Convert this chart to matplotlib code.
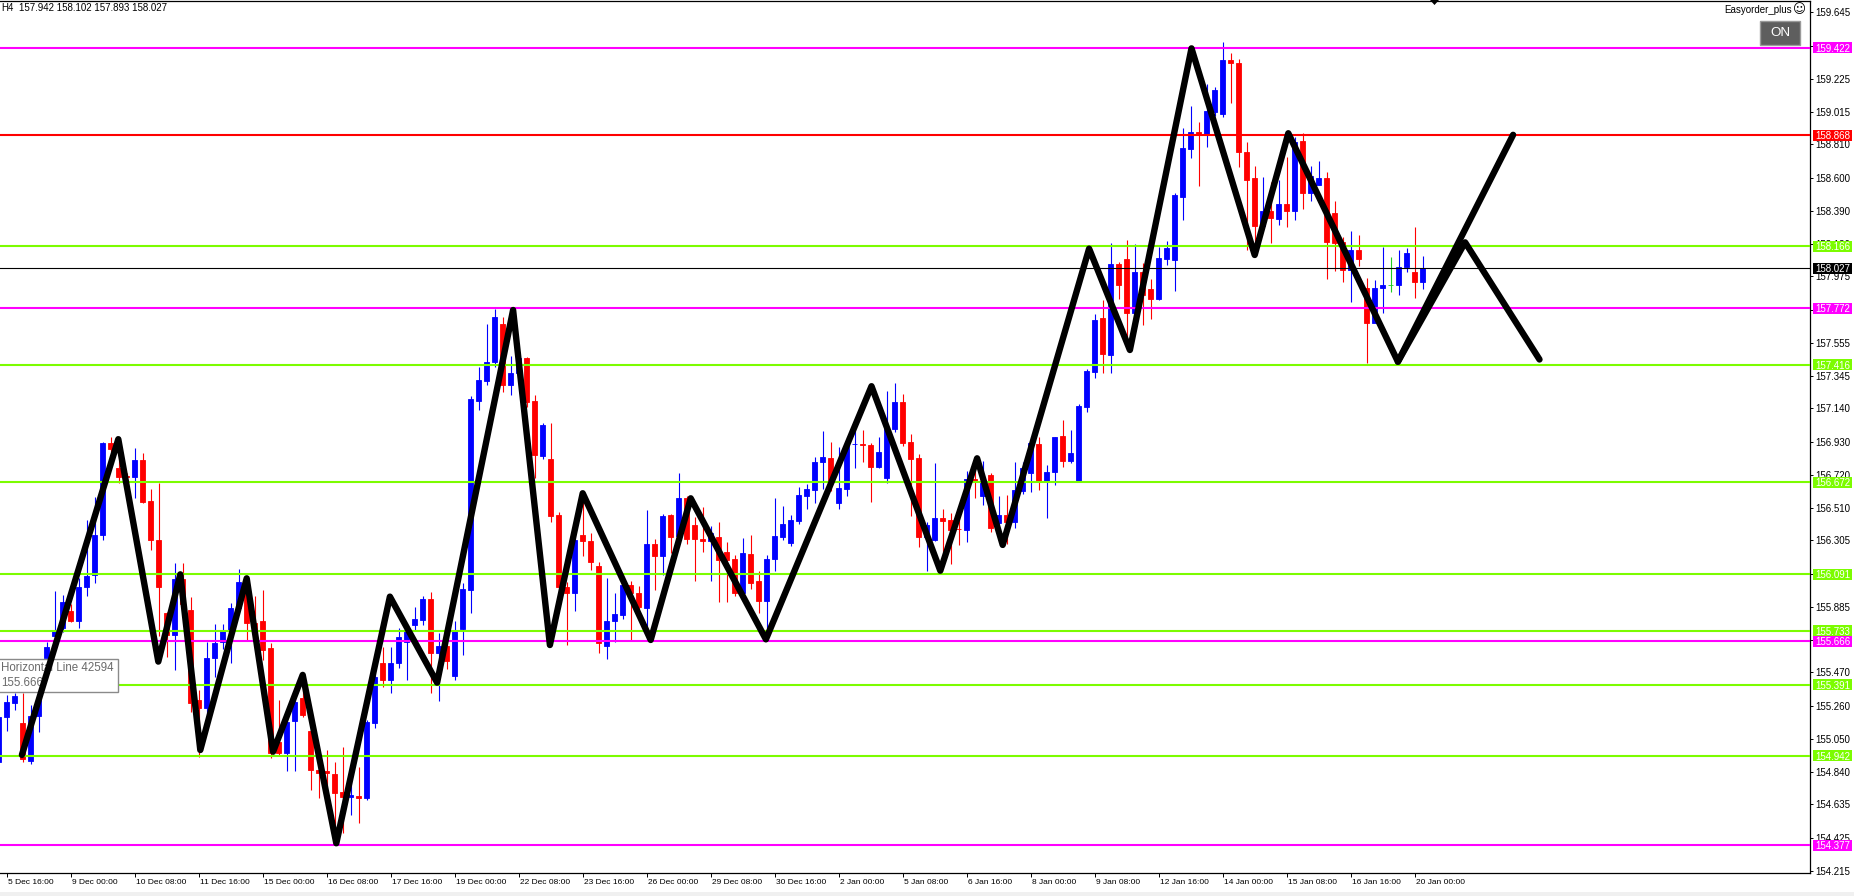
import matplotlib
matplotlib.use("Agg")
import matplotlib.pyplot as plt
import matplotlib.transforms as mtransforms
from matplotlib.patches import Rectangle, Polygon
import numpy as np

plt.rcParams['font.family'] = ['Liberation Sans', 'DejaVu Sans']

# ---------------- data (USDJPY H4) ----------------
opens = [154.906, 155.190, 155.279, 155.148, 154.910, 155.194, 155.559, 155.700, 155.749, 155.861,
         155.797, 156.008, 156.086, 156.339, 156.923, 156.761, 156.712, 156.708, 156.814, 156.554,
         156.308, 155.844, 155.707, 156.059, 155.865, 155.296, 155.243, 155.559, 155.665, 155.739,
         155.876, 155.991, 155.780, 155.797, 155.623, 155.032, 154.963, 155.165, 155.306, 155.096,
         154.853, 154.849, 154.828, 154.714, 154.680, 154.689, 154.674, 155.148, 155.528, 155.422,
         155.528, 155.660, 155.770, 155.802, 155.932, 155.591, 155.637, 155.444, 155.745, 155.988,
         157.189, 157.316, 157.432, 157.674, 157.288, 157.362, 157.461, 157.187, 156.839, 156.820,
         156.466, 156.013, 155.971, 156.340, 156.302, 156.144, 155.638, 155.792, 155.834, 156.023,
         155.975, 155.880, 156.283, 156.203, 156.466, 156.330, 156.572, 156.403, 156.312, 156.300,
         156.325, 156.234, 156.188, 155.971, 156.220, 156.045, 155.924, 156.186, 156.329, 156.287,
         156.430, 156.586, 156.624, 156.801, 156.829, 156.540, 156.631, 156.913, 156.913, 156.909,
         156.772, 156.702, 157.010, 157.183, 156.930, 156.829, 156.329, 156.308, 156.445, 156.434,
         156.378, 156.371, 156.696, 156.588, 156.721, 156.413, 156.466, 156.418, 156.620, 156.734,
         156.915, 156.671, 156.740, 156.966, 156.810, 156.683, 157.151, 157.373, 157.710, 157.478,
         158.054, 158.085, 157.746, 158.003, 157.896, 157.832, 158.085, 158.079, 158.479, 158.780,
         158.890, 158.875, 159.017, 159.002, 159.343, 159.326, 158.764, 158.599, 158.296, 158.388,
         158.338, 158.433, 158.388, 158.831, 158.504, 158.553, 158.599, 158.378, 158.194, 158.015,
         158.142, 157.904, 157.682, 157.900, 157.920, 157.920, 158.032, 158.001, 157.942]
highs = [155.211, 155.330, 155.342, 155.342, 155.264, 155.350, 155.665, 155.985, 155.960, 155.900,
         156.065, 156.434, 156.580, 156.929, 156.957, 156.957, 156.730, 156.887, 156.856, 156.628,
         156.666, 155.850, 156.164, 156.164, 155.949, 155.359, 155.665, 155.776, 155.776, 155.911,
         156.122, 156.060, 155.950, 155.991, 155.654, 155.296, 155.200, 155.310, 155.454, 155.150,
         154.950, 154.980, 154.906, 155.001, 154.885, 154.874, 155.170, 155.464, 155.633, 155.633,
         155.749, 155.770, 155.886, 155.953, 155.981, 155.717, 155.665, 155.798, 156.034, 157.215,
         157.404, 157.674, 157.771, 157.720, 157.472, 157.490, 157.467, 157.225, 157.050, 157.046,
         156.487, 156.040, 156.350, 156.582, 156.350, 156.170, 156.070, 155.975, 156.050, 156.045,
         156.017, 156.494, 156.314, 156.470, 156.470, 156.734, 156.586, 156.450, 156.519, 156.397,
         156.424, 156.293, 156.210, 156.319, 156.340, 156.108, 156.213, 156.572, 156.523, 156.464,
         156.641, 156.660, 156.835, 156.997, 156.930, 156.898, 156.961, 157.004, 157.004, 156.919,
         156.957, 157.250, 157.303, 157.231, 156.978, 156.852, 156.424, 156.797, 156.502, 156.481,
         156.466, 156.746, 156.751, 156.808, 156.730, 156.588, 156.592, 156.801, 156.801, 156.961,
         156.961, 156.782, 156.961, 157.067, 157.000, 157.168, 157.389, 157.737, 157.826, 158.188,
         158.068, 158.205, 158.180, 158.062, 157.959, 158.163, 158.201, 158.505, 158.915, 159.052,
         158.953, 159.189, 159.175, 159.455, 159.390, 159.347, 158.823, 158.673, 158.605, 158.570,
         158.584, 158.732, 158.858, 158.880, 158.673, 158.705, 158.633, 158.452, 158.226, 158.262,
         158.237, 157.963, 157.952, 158.163, 158.100, 158.142, 158.152, 158.285, 158.102]
lows = [154.895, 155.102, 155.232, 154.906, 154.891, 155.095, 155.520, 155.680, 155.728, 155.790,
        155.749, 155.950, 156.034, 156.308, 156.860, 156.666, 156.700, 156.571, 156.540, 156.244,
        155.700, 155.570, 155.486, 155.850, 155.221, 154.937, 155.200, 155.443, 155.620, 155.528,
        155.850, 155.675, 155.680, 155.550, 154.930, 154.950, 154.843, 154.843, 155.190, 154.727,
        154.674, 154.674, 154.389, 154.453, 154.569, 154.516, 154.660, 155.117, 155.380, 155.338,
        155.496, 155.420, 155.739, 155.770, 155.338, 155.290, 155.490, 155.423, 155.581, 155.844,
        157.130, 157.290, 157.400, 157.246, 157.225, 157.340, 157.150, 156.698, 156.820, 156.418,
        155.980, 155.644, 155.855, 156.203, 156.120, 155.591, 155.553, 155.665, 155.810, 155.676,
        155.850, 155.676, 155.992, 156.087, 156.224, 156.300, 156.280, 156.051, 156.234, 156.045,
        155.918, 155.912, 155.950, 155.950, 156.000, 155.848, 155.743, 156.108, 156.308, 156.270,
        156.410, 156.502, 156.540, 156.629, 156.620, 156.502, 156.586, 156.761, 156.803, 156.550,
        156.761, 156.666, 156.990, 156.900, 156.456, 156.262, 156.108, 156.300, 156.150, 156.154,
        156.276, 156.297, 156.571, 156.529, 156.361, 156.390, 156.280, 156.386, 156.600, 156.614,
        156.624, 156.449, 156.656, 156.772, 156.793, 156.680, 157.120, 157.335, 157.366, 157.366,
        157.832, 157.510, 157.720, 157.668, 157.706, 157.826, 158.047, 157.885, 158.331, 158.726,
        158.549, 158.795, 158.990, 158.980, 159.073, 158.664, 158.140, 158.120, 158.270, 158.188,
        158.300, 158.289, 158.331, 158.401, 158.450, 158.550, 157.958, 158.009, 157.937, 157.815,
        158.041, 157.429, 157.678, 157.741, 157.878, 157.857, 158.005, 157.840, 157.893]
closes = [155.190, 155.285, 155.321, 154.920, 155.194, 155.296, 155.629, 155.738, 155.917, 155.797,
          156.012, 156.080, 156.339, 156.923, 156.881, 156.708, 156.708, 156.814, 156.550, 156.308,
          156.008, 155.707, 156.059, 155.900, 155.275, 155.243, 155.559, 155.654, 155.739, 155.876,
          156.044, 155.781, 155.720, 155.612, 154.959, 154.959, 155.159, 155.285, 155.201, 154.853,
          154.836, 154.832, 154.710, 154.680, 154.695, 154.674, 155.159, 155.443, 155.422, 155.528,
          155.696, 155.730, 155.808, 155.932, 155.591, 155.637, 155.539, 155.733, 155.996, 157.200,
          157.320, 157.432, 157.720, 157.288, 157.362, 157.461, 157.183, 156.846, 157.035, 156.460,
          156.013, 155.971, 156.308, 156.298, 156.165, 155.655, 155.798, 155.840, 156.023, 155.971,
          155.882, 156.283, 156.203, 156.462, 156.325, 156.572, 156.312, 156.312, 156.304, 156.350,
          156.182, 156.182, 155.971, 156.224, 156.038, 155.924, 156.186, 156.333, 156.409, 156.435,
          156.593, 156.631, 156.803, 156.831, 156.666, 156.635, 156.913, 156.917, 156.905, 156.772,
          156.864, 157.010, 157.183, 156.923, 156.820, 156.329, 156.403, 156.445, 156.428, 156.371,
          156.374, 156.692, 156.683, 156.671, 156.382, 156.466, 156.418, 156.624, 156.761, 156.919,
          156.671, 156.740, 156.957, 156.810, 156.858, 157.155, 157.377, 157.699, 157.484, 158.054,
          157.921, 157.746, 158.003, 157.860, 157.832, 158.091, 158.155, 158.490, 158.789, 158.890,
          158.875, 159.021, 159.154, 159.343, 159.322, 158.764, 158.584, 158.296, 158.388, 158.346,
          158.433, 158.388, 158.827, 158.504, 158.612, 158.599, 158.194, 158.188, 158.015, 158.142,
          158.085, 157.682, 157.904, 157.920, 157.920, 158.032, 158.121, 157.942, 158.027]

time_labels = ["5 Dec 16:00", "9 Dec 00:00", "10 Dec 08:00", "11 Dec 16:00", "15 Dec 00:00",
               "16 Dec 08:00", "17 Dec 16:00", "19 Dec 00:00", "22 Dec 08:00", "23 Dec 16:00",
               "26 Dec 00:00", "29 Dec 08:00", "30 Dec 16:00", "2 Jan 00:00", "5 Jan 08:00",
               "6 Jan 16:00", "8 Jan 00:00", "9 Jan 08:00", "12 Jan 16:00", "14 Jan 00:00",
               "15 Jan 08:00", "16 Jan 16:00", "20 Jan 00:00"]
first_label_bar = 1
bars_per_label = 8

level_prices = [159.422, 158.868, 158.166, 157.772, 157.416, 156.672, 156.091,
                155.733, 155.666, 155.391, 154.942, 154.377]
level_colors = ['#ff00ff', '#ff0000', '#7cfc00', '#ff00ff', '#7cfc00', '#7cfc00', '#7cfc00',
                '#7cfc00', '#ff00ff', '#7cfc00', '#7cfc00', '#ff00ff']
current_price = 158.027

price_ticks = [159.645, 159.435, 159.225, 159.015, 158.810, 158.600, 158.390, 158.180,
               157.975, 157.765, 157.555, 157.345, 157.140, 156.930, 156.720, 156.510,
               156.305, 156.095, 155.885, 155.675, 155.470, 155.260, 155.050, 154.840,
               154.635, 154.425, 154.215]

zigzag_bars = [2.9, 14.95, 19.95, 22.7, 25.2, 31.0, 34.3, 38.0, 42.2, 48.9, 54.8, 64.3, 68.9,
               73.0, 81.5, 86.5, 95.9, 109.1, 117.7, 122.3, 125.5, 136.3, 141.4, 149.1, 157.0,
               161.2, 174.9, 183.3, 192.6]
zigzag_prices = [154.948, 156.945, 155.538, 156.090, 154.979, 156.065, 154.968, 155.454, 154.389,
                 155.949, 155.405, 157.762, 155.643, 156.603, 155.675, 156.571, 155.679, 157.280,
                 156.113, 156.824, 156.276, 158.150, 157.509, 159.417, 158.110, 158.880, 157.435,
                 158.190, 157.449]
proj_bars = [174.9, 189.3]
proj_prices = [157.435, 158.870]

header_text = "157.942 158.102 157.893 158.027"

# ---------------- layout ----------------
W, H = 1854, 896
fig = plt.figure(figsize=(W / 100, H / 100), dpi=100)
fig.patch.set_facecolor('white')
AX_L, AX_R, AX_T, AX_B = 0.0, 1810.0, 0.7, 873.0
ax = fig.add_axes([AX_L / W, 1 - AX_B / H, (AX_R - AX_L) / W, (AX_B - AX_T) / H])
ax.set_facecolor('white')

bar_px = 8.0
bar0_px = -1.3
ax.set_xlim((AX_L - bar0_px) / bar_px, (AX_R - bar0_px) / bar_px)
px_per_price = 158.1
ref_price, ref_px = 159.645, 12.3
def p_at(y):
    return ref_price - (y - ref_px) / px_per_price
ax.set_ylim(p_at(AX_B), p_at(AX_T))

def fx(x):
    return x / W
def fy(y):
    return 1 - y / H

# candles
o = np.array(opens); c = np.array(closes); h = np.array(highs); l = np.array(lows)
idx = np.arange(len(o))
cols = np.where(c > o, '#0000ff', np.where(c < o, '#ff0000', '#22cc22'))
ax.vlines(idx, l, h, colors=cols, lw=0.8, zorder=3)
ax.bar(idx, np.abs(c - o), bottom=np.minimum(o, c), width=0.6, color=cols,
       edgecolor=cols, linewidth=0.6, zorder=3.1)

# horizontal levels
for v, col in zip(level_prices, level_colors):
    ax.axhline(v, color=col, lw=1.5, zorder=4)
ax.axhline(current_price, color='black', lw=0.8, zorder=4)

# tooltip box
ax.add_patch(Rectangle((fx(-3), fy(692)), fx(121), 33 / H, transform=fig.transFigure,
                       facecolor='white', edgecolor='#8a8a8a', lw=1.0, clip_on=False, zorder=4.5))
ax.text(fx(1), fy(668), "Horizontal Line 42594", transform=fig.transFigure, fontsize=8.3,
        color='#6a6a6a', ha='left', va='center', zorder=4.6, clip_on=False)
ax.text(fx(1), fy(683), "155.666", transform=fig.transFigure, fontsize=8.3,
        color='#6a6a6a', ha='left', va='center', zorder=4.6, clip_on=False)

# zigzag
ax.plot(zigzag_bars, zigzag_prices, color='black', lw=4.6, solid_joinstyle='round',
        solid_capstyle='round', zorder=6)
ax.plot(proj_bars, proj_prices, color='black', lw=4.6, solid_joinstyle='round',
        solid_capstyle='round', zorder=6)

# price labels on right axis
trans_lbl = mtransforms.blended_transform_factory(fig.transFigure, ax.transData)
box_h = 11 / px_per_price
for v, col in zip(level_prices + [current_price], level_colors + ['black']):
    ax.add_patch(Rectangle((fx(1813), v - box_h / 2), fx(39), box_h, transform=trans_lbl,
                           facecolor=col, edgecolor='none', clip_on=False, zorder=10))
    ax.text(fx(1832.5), v, f"{v:.3f}", transform=trans_lbl, color='white', fontsize=7,
            ha='center', va='center_baseline', clip_on=False, zorder=11)

# axes styling
ax.spines['left'].set_visible(False)
for s in ['right', 'bottom', 'top']:
    ax.spines[s].set_linewidth(0.9)
    ax.spines[s].set_color('black')

ax.yaxis.tick_right()
ax.set_yticks(price_ticks)
ax.set_yticklabels([f"{t:.3f}" for t in price_ticks])
ax.tick_params(axis='y', direction='out', length=2.2, width=0.7, pad=1.5, labelsize=7,
               colors='black')

tick_bars = [first_label_bar + bars_per_label * k for k in range(len(time_labels))]
ax.set_xticks(tick_bars)
ax.set_xticklabels(time_labels)
ax.tick_params(axis='x', direction='out', length=3.0, width=0.7, pad=1.2, labelsize=6,
               colors='black')
for lbl in ax.get_xticklabels():
    lbl.set_horizontalalignment('left')
    lbl.set_transform(lbl.get_transform() +
                      mtransforms.ScaledTranslation(1 / 100, 0, fig.dpi_scale_trans))

# header / decorations
fig.text(fx(1), fy(8), "H4", fontsize=7, ha='left', va='center')
fig.text(fx(19), fy(8), header_text, fontsize=7, ha='left', va='center')
fig.text(fx(1792), fy(10), "Easyorder_plus", fontsize=7, ha='right', va='center')
fig.text(fx(1799), fy(10), "\u263a", fontsize=9, ha='center', va='center',
         family=['DejaVu Sans'])
fig.patches.append(Rectangle((fx(1760), fy(45)), fx(40), 24 / H, transform=fig.transFigure,
                             facecolor='#5e5e5e', edgecolor='#9a9a9a', lw=1.0, zorder=5))
fig.text(fx(1780), fy(33), "ON", fontsize=9.6, color='white', ha='center', va='center', zorder=6)
fig.patches.append(Polygon([(fx(1430), fy(0)), (fx(1439), fy(0)), (fx(1434.5), fy(5))],
                           closed=True, transform=fig.transFigure, facecolor='black',
                           edgecolor='none', zorder=6))
fig.patches.append(Rectangle((0, 0), 1, 4 / H, transform=fig.transFigure,
                             facecolor='#f0f0f0', edgecolor='none', zorder=0))

fig.savefig('out.png', dpi=100)
